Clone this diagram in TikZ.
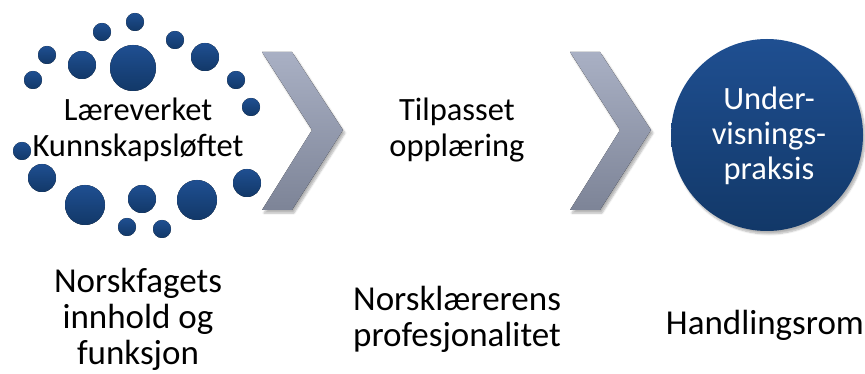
\documentclass[tikz,border=0pt]{standalone}
\usepackage{fontspec}
\setmainfont{Carlito}
\usetikzlibrary{shadows,shadows.blur}
\definecolor{dotTop}{HTML}{1F4F91}
\definecolor{dotBot}{HTML}{123868}
\definecolor{chevTop}{HTML}{A9B0C4}
\definecolor{chevBot}{HTML}{7D8497}
\tikzset{
  dot/.style={top color=dotTop, bottom color=dotBot, draw=none},
  chev/.style={top color=chevTop, bottom color=chevBot, draw=none,
    blur shadow={shadow xshift=2pt, shadow yshift=-3pt, shadow blur steps=6, shadow opacity=30}},
  lbl/.style={font=\fontsize{32.5}{36}\selectfont, align=center, text=black, inner sep=0pt},
  lblb/.style={font=\fontsize{35}{36}\selectfont, align=center, text=black, inner sep=0pt},
  big/.style={circle, minimum size=192pt, top color=dotTop, bottom color=dotBot, draw=none,
    font=\fontsize{32.5}{35}\selectfont, text=white, align=center, inner sep=0pt,
    blur shadow={shadow xshift=2pt, shadow yshift=-3pt, shadow blur steps=6, shadow opacity=30}}
}
\begin{document}
\begin{tikzpicture}[x=1pt,y=-1pt]
\useasboundingbox (0,0) rectangle (865,374);
% dot cluster
\foreach \x/\y/\r in {135/22/9, 102/32/9, 175/40/9, 47/55/9, 82/65/14, 133/68/23,
  205/57/14, 33/80/9, 236/80/9, 251/107/9, 22/151/9, 42/178/14, 247/183/14,
  85/205/20, 142/199/14, 197/200/20, 127/227/9, 162/229/9}
  \fill[dot] (\x,\y) circle[radius=\r];
\node[lbl] (lk) at (138,130) {Læreverket\\Kunnskapsløftet};
% chevrons
\fill[chev] (262,52) -- (292,52) -- (343,130) -- (292,210) -- (262,210) -- (312,130) -- cycle;
\fill[chev] (570,52) -- (600,52) -- (651,130) -- (600,210) -- (570,210) -- (620,130) -- cycle;
\node[lbl] (tp) at (457,130) {Tilpasset\\opplæring};
\node[big] (up) at (767,135) {};
\node[font=\fontsize{32.5}{35}\selectfont, text=white, align=center, inner sep=0pt] (upt) at (769,136) {Under-\\visnings-\\praksis};
% bottom labels
\node[lblb] (nf) at (138,319) {Norskfagets\\innhold og\\funksjon};
\node[lblb] (np) at (457,319) {Norsklærerens\\profesjonalitet};
\node[lblb] (hr) at (765,325) {Handlingsrom};
\end{tikzpicture}
\end{document}
